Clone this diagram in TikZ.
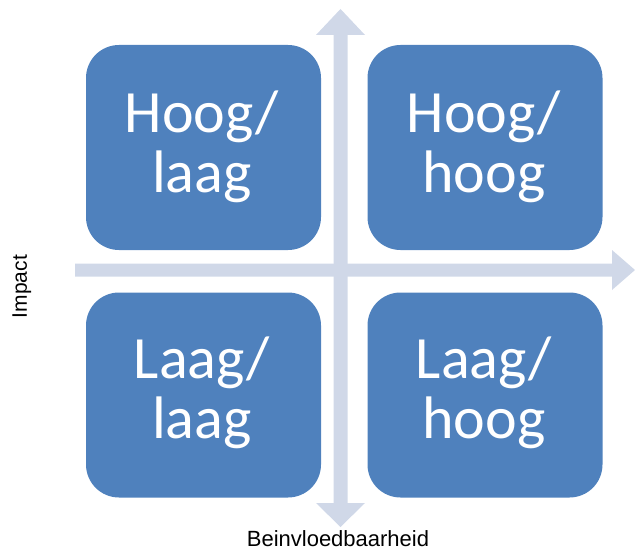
\documentclass[tikz,border=0pt]{standalone}
\usepackage{fontspec}
\setmainfont{Liberation Sans}
\newfontfamily\boxfont{Carlito}
\definecolor{boxblue}{HTML}{4F81BD}
\definecolor{axisgrey}{HTML}{D0D8E8}
\begin{document}
\begin{tikzpicture}[x=1pt,y=-1pt,
  quad/.style={draw=none,fill=boxblue,rounded corners=33pt,minimum width=235pt,minimum height=205pt,inner sep=0pt},
  quadtext/.style={anchor=base,text=white,inner sep=0pt,font=\boxfont\fontsize{60}{60}\selectfont},
  axislabel/.style={anchor=base,inner sep=0pt,text=black}]
\useasboundingbox (0,0) rectangle (635,551);
% axes
\fill[axisgrey] (340.5,9) -- (365,35) -- (347.5,35) -- (347.5,503) -- (365,503) -- (340.5,527)
  -- (316,503) -- (333.5,503) -- (333.5,35) -- (316,35) -- cycle;
\fill[axisgrey] (75,263.5) -- (612,263.5) -- (612,250) -- (635,270) -- (612,290) -- (612,276.5) -- (75,276.5) -- cycle;
% quadrants
\node[quad] (tl) at (203.5,147.5) {};
\node[quad] (tr) at (485,147.5) {};
\node[quad] (bl) at (203.5,395) {};
\node[quad] (br) at (485,395) {};
\node[quadtext] (tlt) at (202,132) {\begin{tabular}[t]{@{}c@{}}Hoog/\\laag\end{tabular}};
\node[quadtext] (trt) at (484,132) {\begin{tabular}[t]{@{}c@{}}Hoog/\\hoog\end{tabular}};
\node[quadtext] (blt) at (202,378) {\begin{tabular}[t]{@{}c@{}}Laag/\\laag\end{tabular}};
\node[quadtext] (brt) at (484,378) {\begin{tabular}[t]{@{}c@{}}Laag/\\hoog\end{tabular}};
% labels
\node[axislabel,rotate=90,font=\fontsize{21}{25}\selectfont] (imp) at (27,286.5) {Impact};
\node[axislabel,text depth=0pt,font=\fontsize{22}{26}\selectfont] (bein) at (338,546.5) {Beinvloedbaarheid};
\end{tikzpicture}
\end{document}
